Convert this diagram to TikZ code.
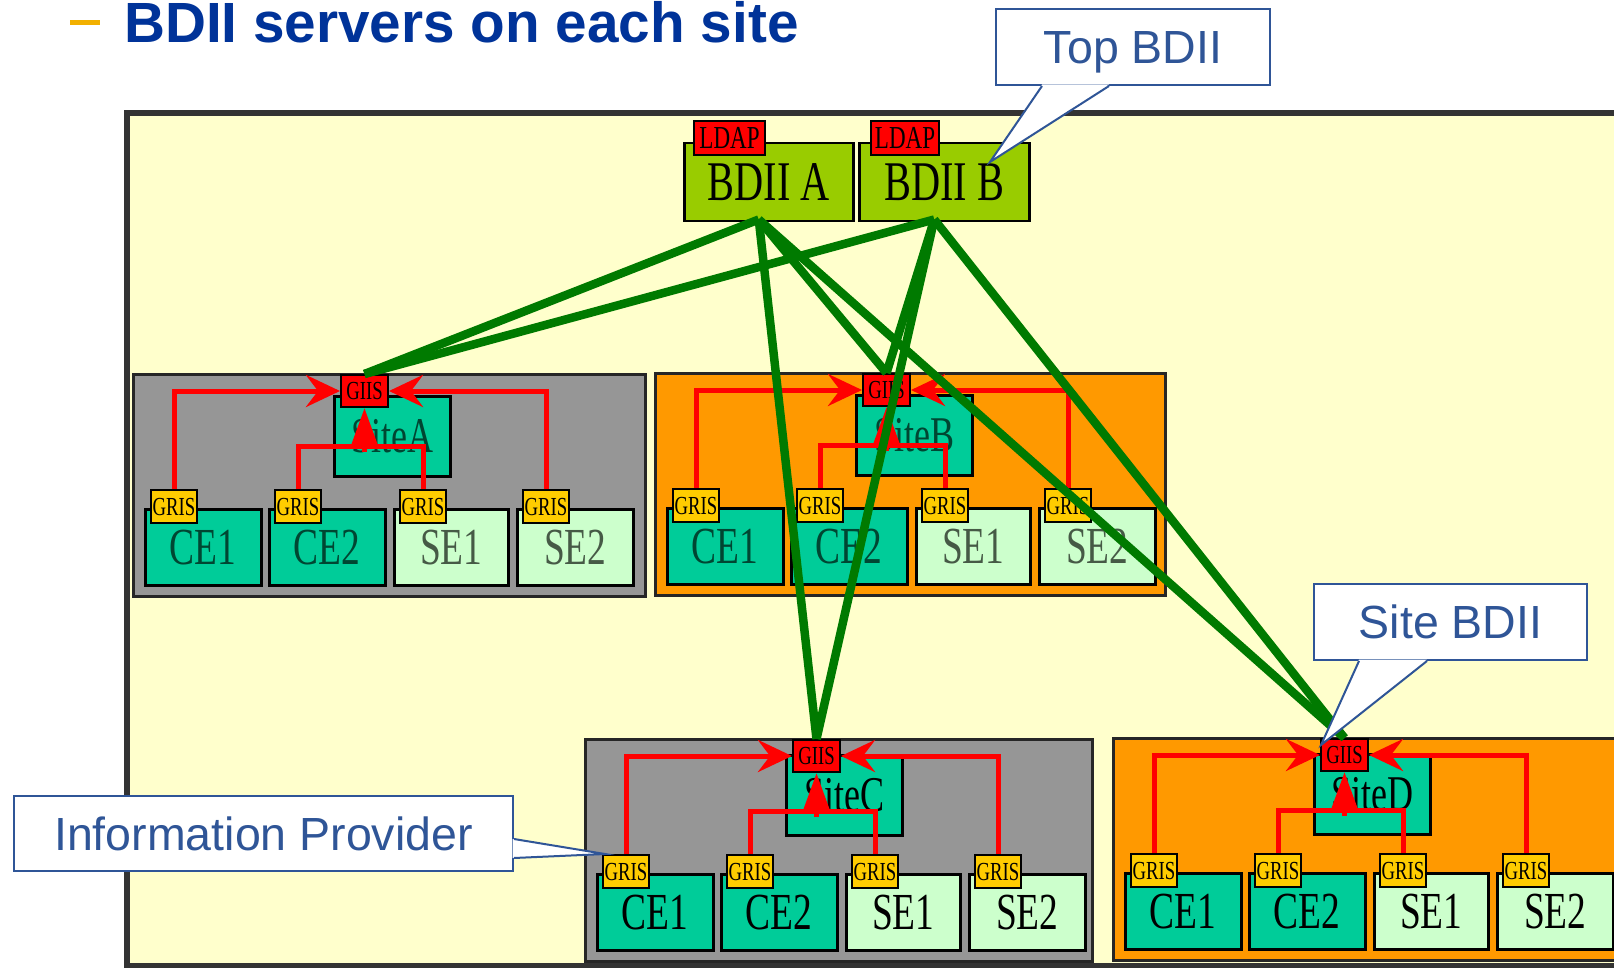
\documentclass[tikz,border=0pt]{standalone}
\usepackage{fontspec}
\setmainfont{Liberation Sans}
\newfontfamily\pixfont[FakeStretch=0.72]{Liberation Serif}
\usetikzlibrary{arrows.meta,calc}

\definecolor{bgyellow}{RGB}{255,255,204}
\definecolor{framegray}{RGB}{51,51,51}
\definecolor{panelgray}{RGB}{150,150,150}
\definecolor{panelorange}{RGB}{255,153,0}
\definecolor{ceteal}{RGB}{0,204,153}
\definecolor{selight}{RGB}{204,255,204}
\definecolor{grisyellow}{RGB}{255,204,0}
\definecolor{tagred}{RGB}{255,0,0}
\definecolor{bdiigreen}{RGB}{153,204,0}
\definecolor{linkgreen}{RGB}{0,122,0}
\definecolor{calloutblue}{RGB}{47,85,151}
\definecolor{titleblue}{RGB}{0,51,153}
\definecolor{dashorange}{RGB}{242,176,0}
\definecolor{cetextup}{RGB}{0,70,50}
\definecolor{setextup}{RGB}{70,90,70}

% one site: panel, site GIIS, four resources with their GRIS
% #1 id, #2 left, #3 top, #4 panel colour, #5 site box offset,
% #6 panel width, #7 CE text colour, #8 SE text colour
\newcommand\gridsite[8]{%
  \begin{scope}[shift={(#2,#3)}]
    \node[panel, fill=#4, minimum width=#6pt] (panel#1) at (0,0) {};
    \node[sitebox, text=#7] (site#1) at (201,#5) {Site#1};
    \node[cebox, text=#7] (ceone#1) at (12,135) {CE1};
    \node[cebox, text=#7] (cetwo#1) at (136,135) {CE2};
    \node[sebox, text=#8, minimum width=114pt] (seone#1) at (261,135) {SE1};
    \node[sebox, text=#8] (setwo#1) at (384,135) {SE2};
    \node[gris] (grisa#1) at (18,116) {GRIS};
    \node[gris] (grisb#1) at (142,116) {GRIS};
    \node[gris] (grisc#1) at (267,116) {GRIS};
    \node[gris] (grisd#1) at (390,116) {GRIS};
    \node[giis] (giis#1) at (208,1) {GIIS};
    \draw[sidearrow] (grisa#1.north) |- (giis#1.west);
    \draw[sidearrow] (grisd#1.north) |- (giis#1.east);
    \path (giis#1.south) ++(0,38) coordinate (bus#1);
    \draw[redline] (grisb#1.north) |- (bus#1) -| (grisc#1.north);
    \draw[uparrow] ([yshift=-6pt]bus#1) -- (giis#1.south);
  \end{scope}}

\begin{document}
\begin{tikzpicture}[x=1pt, y=-1pt,
  box/.style={draw=black, line width=2.5pt, inner sep=0pt, anchor=north west,
    text height=34pt, text depth=0pt, font=\pixfont\fontsize{52pt}{52pt}\selectfont},
  panel/.style={draw=black!85, line width=3pt, inner sep=0pt, anchor=north west,
    minimum height=222pt},
  sitebox/.style={box, fill=ceteal, minimum width=116pt, minimum height=80pt,
    font=\pixfont\fontsize{50pt}{50pt}\selectfont, text height=33pt},
  cebox/.style={box, fill=ceteal, minimum width=116pt, minimum height=76pt},
  sebox/.style={box, fill=selight, minimum width=116pt, minimum height=76pt},
  tagbox/.style={draw=black, line width=2pt, inner sep=0pt, anchor=north west,
    text height=17pt, text depth=0pt, font=\pixfont\fontsize{26pt}{26pt}\selectfont},
  giis/.style={tagbox, fill=tagred, minimum width=47pt, minimum height=32pt},
  gris/.style={tagbox, fill=grisyellow, minimum width=46pt, minimum height=33pt},
  ldap/.style={tagbox, fill=tagred, minimum height=34pt, text height=21pt,
    font=\pixfont\fontsize{32pt}{32pt}\selectfont},
  bdii/.style={box, fill=bdiigreen, text height=37pt,
    font=\pixfont\fontsize{56pt}{56pt}\selectfont},
  redline/.style={draw=tagred, line width=5pt},
  sidearrow/.style={redline, -{Stealth[length=34pt,width=32pt,inset=12pt]}},
  uparrow/.style={redline, -{Triangle[length=38pt,width=26pt]}},
  greenline/.style={draw=linkgreen, line width=8.5pt},
  callout/.style={draw=calloutblue, fill=white, line width=2pt, text=calloutblue,
    inner sep=0pt, font=\fontsize{46.5pt}{48pt}\selectfont,
    text height=33.3pt, text depth=0pt},
  pointer/.style={draw=calloutblue, line width=2pt, line join=miter}]

\useasboundingbox (0,0) rectangle (1614,968);
\clip (0,0) rectangle (1614,968);
\fill[white] (0,0) rectangle (1614,968);

% heading
\fill[dashorange] (70,20.5) rectangle (100,25.5);
\node[anchor=base west, inner sep=0pt, text=titleblue,
  font=\fontsize{56.7pt}{60pt}\selectfont\bfseries] (title) at (124,43)
  {BDII servers on each site};

% frame
\draw[line width=6pt, draw=framegray, fill=bgyellow] (126.5,113.5) rectangle (1650,965.5);

% top level BDII servers
\node[bdii, minimum width=169pt, minimum height=78pt] (bdiiA) at (683,142) {BDII A};
\node[bdii, minimum width=170pt, minimum height=78pt] (bdiiB) at (858,142) {BDII B};
\node[ldap, minimum width=71pt] (ldapA) at (693,120) {LDAP};
\node[ldap, minimum width=68pt] (ldapB) at (870,120) {LDAP};

% sites
\gridsite{A}{132}{373}{panelgray}{22}{512}{cetextup}{setextup}
\gridsite{B}{654}{372}{panelorange}{22}{510}{cetextup}{setextup}
\gridsite{C}{584}{738}{panelgray}{16}{507}{black}{black}
\gridsite{D}{1112}{737}{panelorange}{16}{520}{black}{black}

% links from the top BDIIs to every site GIIS
\coordinate (linkA) at ([xshift=-10pt,yshift=3pt]bdiiA.south);
\coordinate (linkB) at ([xshift=-10pt,yshift=3pt]bdiiB.south);
\foreach \s in {A,B,C,D} {
  \draw[greenline] (linkA) -- (giis\s.north);
  \draw[greenline] (linkB) -- (giis\s.north);
}

% callouts
\node[callout, minimum width=274pt, minimum height=76pt] (topcall) at (1133,47) {Top BDII};
\coordinate (topTip) at (990,162);
\fill[white] ($(topcall.south west)+(47,-1.5)$) -- (topTip) -- ($(topcall.south west)+(114,-1.5)$) -- cycle;
\draw[pointer] ($(topcall.south west)+(47,0)$) -- (topTip) -- ($(topcall.south west)+(114,0)$);

\node[callout, minimum width=273pt, minimum height=76pt] (sitecall) at (1450.5,622) {Site BDII};
\coordinate (siteTip) at (1321,745);
\fill[white] ($(sitecall.south west)+(46,-1.5)$) -- (siteTip) -- ($(sitecall.south west)+(114,-1.5)$) -- cycle;
\draw[pointer] ($(sitecall.south west)+(46,0)$) -- (siteTip) -- ($(sitecall.south west)+(114,0)$);

\node[callout, minimum width=499pt, minimum height=75pt] (infocall) at (263.5,833.5) {Information Provider};
\coordinate (infoTip) at (605,854);
\fill[white] ($(infocall.north east)+(-1.5,44)$) -- (infoTip) -- ($(infocall.north east)+(-1.5,63)$) -- cycle;
\draw[pointer] ($(infocall.north east)+(0,44)$) -- (infoTip) -- ($(infocall.north east)+(0,63)$);

\end{tikzpicture}
\end{document}
